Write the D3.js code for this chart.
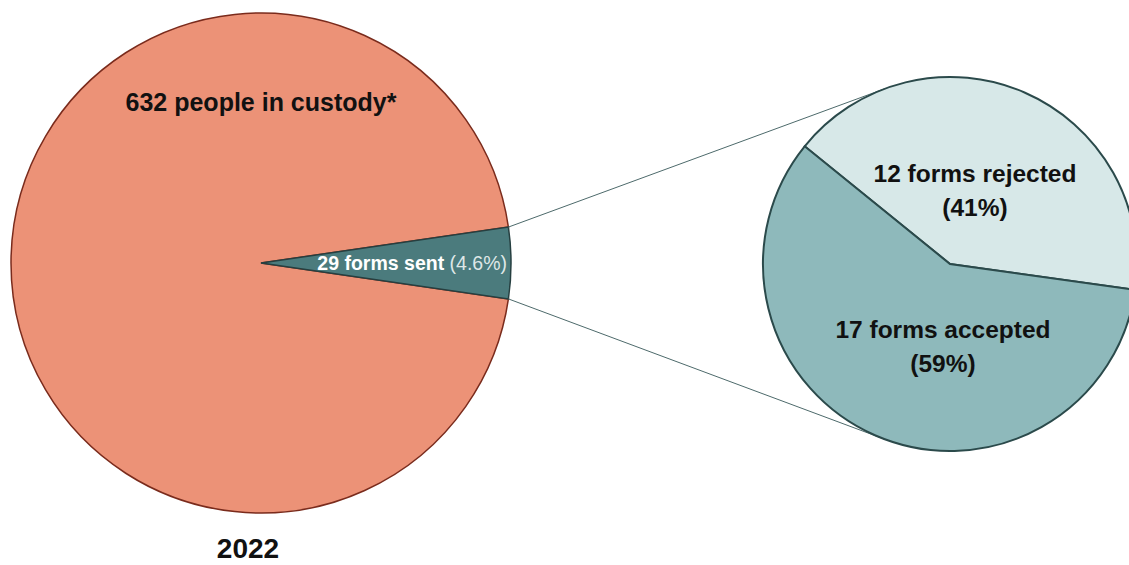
<!DOCTYPE html>
<html>
<head>
<meta charset="utf-8">
<script src="https://cdn.jsdelivr.net/npm/d3@7"></script>
<style>
  html, body { margin: 0; padding: 0; background: #fff; }
  svg { display: block; font-family: "Liberation Sans", Arial, sans-serif; }
</style>
</head>
<body>
<div id="chart"></div>
<script>
// Pie-of-pie: custody total with forms sent broken out
const year = '2022';
const custodyTotal = 632;
const formsSent = 29;
const sentPct = '4.6%';

const outcomeNames = ['rejected', 'accepted'];
const outcomeValues = [12, 17];
const outcomePct = ['41%', '59%'];

const W = 1129, H = 565;

const svg = d3.select('#chart').append('svg')
    .attr('width', W)
    .attr('height', H)
    .attr('viewBox', `0 0 ${W} ${H}`);

// main pie
const main = { cx: 261, cy: 263, r: 250 };
const sentAngle = formsSent / custodyTotal * 2 * Math.PI;
const mainStart = Math.PI / 2 - sentAngle / 2;

const mainPie = d3.pie().sort(null)
    .startAngle(mainStart)
    .endAngle(mainStart + 2 * Math.PI);
const mainArcs = mainPie([formsSent, custodyTotal - formsSent]);
const mainArc = d3.arc().innerRadius(0).outerRadius(main.r);

const gMain = svg.append('g').attr('transform', `translate(${main.cx},${main.cy})`);

// draw the big slice first, wedge on top
gMain.append('path')
    .attr('d', mainArc(mainArcs[1]))
    .attr('fill', '#ec9277')
    .attr('stroke', '#7a2b1c')
    .attr('stroke-width', 1.5);

gMain.append('path')
    .attr('d', mainArc(mainArcs[0]))
    .attr('fill', '#4b7b7d')
    .attr('stroke', '#263f40')
    .attr('stroke-width', 1.5);

// second pie
const sub = { cx: 950, cy: 264, r: 187 };
const subStart = -51 * Math.PI / 180;
const subPie = d3.pie().sort(null)
    .startAngle(subStart)
    .endAngle(subStart + 2 * Math.PI);
const subArcs = subPie(outcomeValues);
const subArc = d3.arc().innerRadius(0).outerRadius(sub.r);
const subColors = d3.scaleOrdinal().domain(outcomeNames).range(['#d7e8e8', '#8eb9bb']);

// connector lines: from wedge edge points to tangent points on the second pie
function edgePoint(a) {
    return [main.cx + main.r * Math.sin(a), main.cy - main.r * Math.cos(a)];
}
function tangent(p, upper) {
    const dx = p[0] - sub.cx, dy = p[1] - sub.cy;
    const d = Math.hypot(dx, dy);
    const base = Math.atan2(dy, dx);
    const off = Math.acos(sub.r / d);
    const a = upper ? base + off : base - off;
    return [sub.cx + sub.r * Math.cos(a), sub.cy + sub.r * Math.sin(a)];
}
const pTop = edgePoint(mainArcs[0].startAngle);
const pBot = edgePoint(mainArcs[0].endAngle);
const connectors = [[pTop, tangent(pTop, true)], [pBot, tangent(pBot, false)]];

svg.append('g').selectAll('line')
    .data(connectors)
    .join('line')
    .attr('x1', d => d[0][0]).attr('y1', d => d[0][1])
    .attr('x2', d => d[1][0]).attr('y2', d => d[1][1])
    .attr('stroke', '#4d6a6b')
    .attr('stroke-width', 1);

const gSub = svg.append('g').attr('transform', `translate(${sub.cx},${sub.cy})`);
gSub.selectAll('path')
    .data(subArcs)
    .join('path')
    .attr('d', subArc)
    .attr('fill', (d, i) => subColors(outcomeNames[i]))
    .attr('stroke', '#2b4a4b')
    .attr('stroke-width', 2);

// labels
svg.append('text')
    .attr('x', main.cx)
    .attr('y', 111)
    .attr('text-anchor', 'middle')
    .attr('font-size', 25)
    .attr('font-weight', 'bold')
    .attr('fill', '#111')
    .text(`${custodyTotal} people in custody*`);

const sentLabel = svg.append('text')
    .attr('x', main.cx + main.r - 4)
    .attr('y', main.cy + 7)
    .attr('text-anchor', 'end')
    .attr('font-size', 19.5);
sentLabel.append('tspan')
    .attr('font-weight', 'bold')
    .attr('fill', '#ffffff')
    .text(`${formsSent} forms sent `);
sentLabel.append('tspan')
    .attr('fill', '#dfe7e7')
    .text(`(${sentPct})`);

const subLabelPos = [[25, -82], [-7, 74]];
outcomeNames.forEach((name, i) => {
    const t = svg.append('text')
        .attr('text-anchor', 'middle')
        .attr('font-size', 24.5)
        .attr('font-weight', 'bold')
        .attr('fill', '#111')
        .attr('transform', `translate(${sub.cx + subLabelPos[i][0]},${sub.cy + subLabelPos[i][1]})`);
    t.append('tspan').attr('x', 0).attr('y', 0).text(`${outcomeValues[i]} forms ${name}`);
    t.append('tspan').attr('x', 0).attr('y', 34).text(`(${outcomePct[i]})`);
});

svg.append('text')
    .attr('x', 248)
    .attr('y', 558)
    .attr('text-anchor', 'middle')
    .attr('font-size', 28)
    .attr('font-weight', 'bold')
    .attr('fill', '#111')
    .text(year);
</script>
</body>
</html>
